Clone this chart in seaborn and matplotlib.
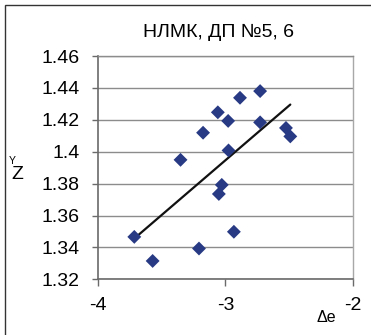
import matplotlib
matplotlib.use("Agg")
import matplotlib.pyplot as plt
import seaborn as sns
import pandas as pd
from matplotlib.patches import Rectangle

# ---- data ----
title = "НЛМК, ДП №5, 6"
x_vals = [-3.715, -3.571, -3.352, -3.207, -3.175, -3.059, -3.051, -3.028,
          -2.978, -2.975, -2.933, -2.885, -2.727, -2.727, -2.524, -2.490]
y_vals = [1.3466, 1.3315, 1.3949, 1.3393, 1.4119, 1.4247, 1.3735, 1.3792,
          1.4193, 1.4008, 1.3498, 1.4338, 1.4380, 1.4184, 1.4149, 1.4096]
x_ticks = [-4, -3, -2]
x_tick_labels = ["-4", "-3", "-2"]
y_ticks = [1.32, 1.34, 1.36, 1.38, 1.40, 1.42, 1.44, 1.46]
y_tick_labels = ["1.32", "1.34", "1.36", "1.38", "1.4", "1.42", "1.44", "1.46"]

df = pd.DataFrame({"x": x_vals, "y": y_vals})

sns.set_theme(style="white")
plt.rcParams["font.family"] = ["Liberation Sans", "DejaVu Sans"]

W, H = 371, 335
fig = plt.figure(figsize=(W / 100, H / 100), dpi=100)
fig.patch.set_facecolor("white")

ax = fig.add_axes([98 / W, 1 - 279.3 / H, (352.7 - 98) / W, (279.3 - 56) / H])
ax.set_facecolor("white")

grid_c = "#8c8c8c"
for yt in y_ticks:
    ax.axhline(yt, color=grid_c, lw=1.0, zorder=0)

sns.regplot(data=df, x="x", y="y", ax=ax, scatter=False, ci=None,
            line_kws={"color": "#111111", "lw": 1.6, "zorder": 2})
sns.scatterplot(data=df, x="x", y="y", ax=ax, marker="D", s=50,
                color="#283a84", edgecolor="none", linewidth=0, zorder=3)

ax.set_xlim(-4, -2)
ax.set_ylim(1.32, 1.46)
ax.set_xticks(x_ticks)
ax.set_xticklabels(x_tick_labels)
ax.set_yticks(y_ticks)
ax.set_yticklabels(y_tick_labels)
ax.set_xlabel("")
ax.set_ylabel("")

for side in ["left", "bottom"]:
    ax.spines[side].set_color("#6a6a6a")
    ax.spines[side].set_linewidth(1.2)
ax.spines["right"].set_color("#a8a8a8")
ax.spines["right"].set_linewidth(1.0)
ax.spines["top"].set_color(grid_c)
ax.spines["top"].set_linewidth(1.0)

ax.tick_params(axis="y", direction="out", length=4, width=1, color="#6a6a6a",
               pad=9, labelsize=14, labelcolor="black", left=True)
ax.tick_params(axis="x", direction="out", length=5, width=1, color="#6a6a6a",
               pad=8, labelsize=14, labelcolor="black", bottom=True)

fig.text(218.5 / W, 1 - 32 / H, title, ha="center", va="center", fontsize=14,
         color="black")
fig.text(17.5 / W, 1 - 174.5 / H, "Z", ha="center", va="center", fontsize=14,
         color="black")
fig.text(12.7 / W, 1 - 160.5 / H, "Y", ha="center", va="center", fontsize=7.5,
         color="black")
fig.text(326 / W, 1 - 318 / H, "Δe", ha="center", va="center", fontsize=11.5,
         color="black")

# outer chart frame (only left/top visible in crop)
fig.patches.append(Rectangle((5 / W, -0.1), 1.2, 1 - 5 / H + 0.1,
                             transform=fig.transFigure, fill=False,
                             edgecolor="#333333", lw=1.0, zorder=0))

fig.savefig("out.png", dpi=100)
